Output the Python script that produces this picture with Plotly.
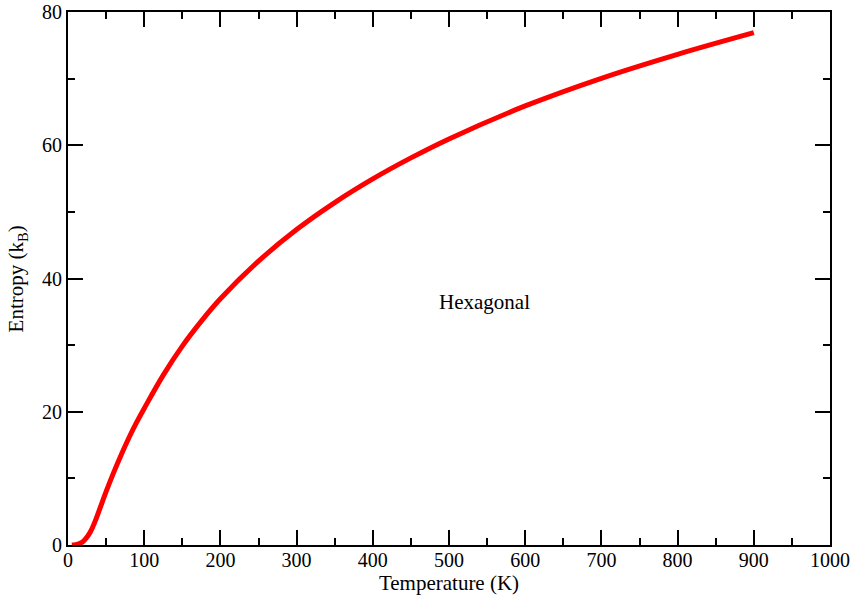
import plotly.graph_objects as go

temperature = [5, 10, 15, 20, 25, 30, 35, 40, 50, 60, 70, 80, 90, 100, 125, 150, 175, 200,
               250, 300, 350, 400, 450, 500, 600, 700, 800, 900]
entropy = [0.0, 0.05, 0.2, 0.55, 1.2, 2.1, 3.4, 4.9, 8.0, 10.9, 13.6, 16.1, 18.4, 20.5, 25.5,
           29.85, 33.6, 36.95, 42.6, 47.35, 51.4, 54.95, 58.1, 60.95, 65.9, 70.05, 73.65, 76.9]

x_ticks = [0, 100, 200, 300, 400, 500, 600, 700, 800, 900, 1000]
y_ticks = [0, 20, 40, 60, 80]
label_text = "Hexagonal"
label_pos = (546, 36.5)

FONT = "Liberation Serif, Times New Roman, serif"

fig = go.Figure()
fig.add_trace(go.Scatter(
    x=temperature, y=entropy, mode="lines",
    line=dict(color="#ff0000", width=5, shape="spline", smoothing=1.0),
    showlegend=False,
))

axis_common = dict(
    showgrid=False, zeroline=False, automargin=False,
    showline=True, linecolor="black", linewidth=2, mirror="ticks",
    ticks="inside", ticklen=15, tickwidth=1.5, tickcolor="black",
    tickfont=dict(family=FONT, size=20, color="black"),
)

fig.update_xaxes(
    range=[0, 1000], tickvals=x_ticks, ticklabelstandoff=-4,
    minor=dict(dtick=50, ticks="inside", ticklen=7, tickwidth=1.5, tickcolor="black", showgrid=False),
    title=dict(text="Temperature (K)", font=dict(family=FONT, size=21, color="black"), standoff=0),
    **axis_common,
)
fig.update_yaxes(
    range=[0, 80], tickvals=y_ticks,
    minor=dict(dtick=10, ticks="inside", ticklen=7, tickwidth=1.5, tickcolor="black", showgrid=False),
    **axis_common,
)

# y-axis title placed as a rotated annotation for precise positioning
fig.add_annotation(
    xref="paper", yref="paper", x=-0.067, y=0.5,
    text="Entropy (k<sub>B</sub>)", textangle=-90, showarrow=False,
    xanchor="center", yanchor="middle",
    font=dict(family=FONT, size=21, color="black"),
)

fig.add_annotation(
    x=label_pos[0], y=label_pos[1], text=label_text, showarrow=False,
    font=dict(family=FONT, size=21, color="black"),
)

fig.update_layout(
    width=857, height=601,
    margin=dict(l=68, r=27, t=12, b=56),
    plot_bgcolor="white", paper_bgcolor="white",
    font=dict(family=FONT, color="black"),
)

fig.write_html("out.html", config={"displayModeBar": False},
               post_script="document.body.style.margin='0px';")
